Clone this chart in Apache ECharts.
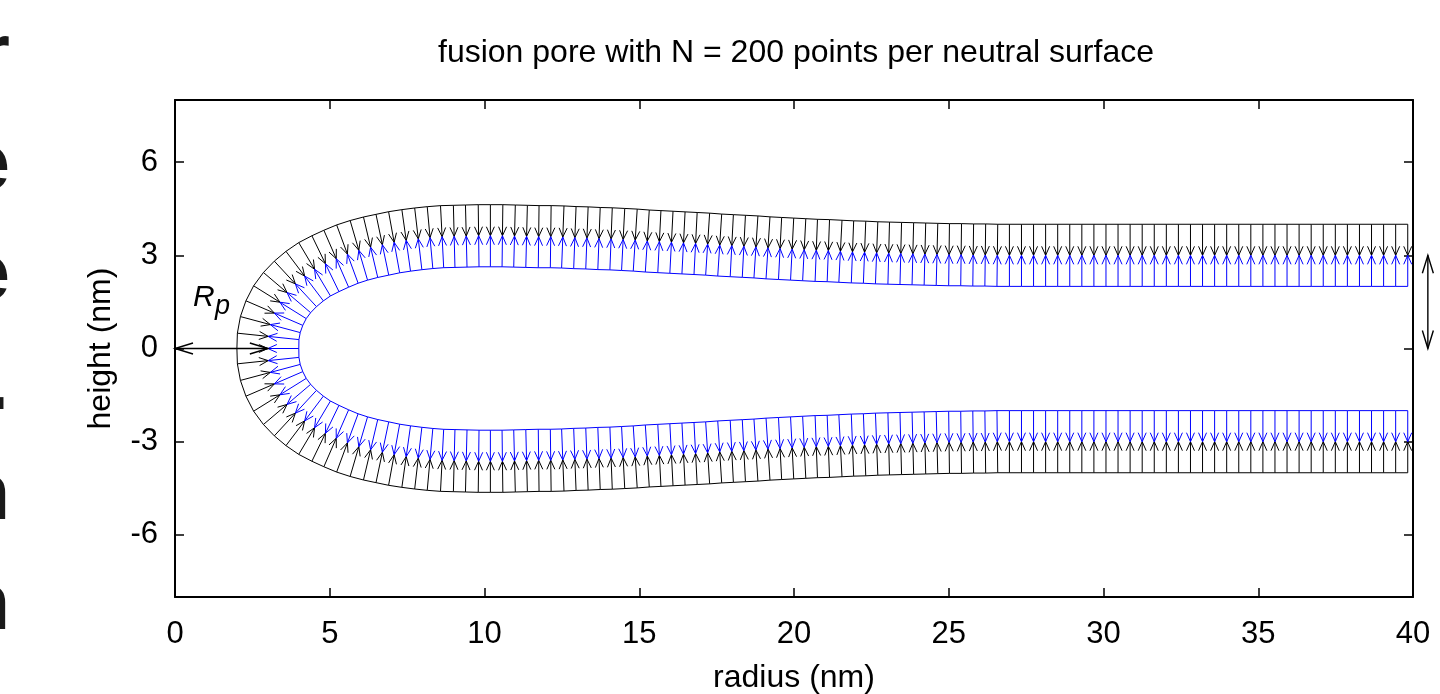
<!DOCTYPE html>
<html>
<head>
<meta charset="utf-8">
<script src="https://cdn.jsdelivr.net/npm/echarts@6/dist/echarts.min.js"></script>
<style>
  html, body { margin: 0; padding: 0; background: #fff; }
  #chart { width: 1440px; height: 694px; }
</style>
</head>
<body>
<div id="chart"></div>
<script>
// neutral surface, upper half, from the pore rim outwards (nm)
const neutralX = [
  3.00, 3.01, 3.08, 3.21, 3.39, 3.62, 3.89, 4.19, 4.51, 4.86,
  5.21, 5.57, 5.94, 6.32, 6.70, 7.08, 7.47, 7.86, 8.24, 8.63,
  9.02, 9.41, 9.81, 10.19, 10.58, 10.97, 11.36, 11.75, 12.14, 12.53,
  12.92, 13.31, 13.70, 14.09, 14.48, 14.87, 15.26, 15.65, 16.04, 16.43,
  16.82, 17.21, 17.60, 17.99, 18.38, 18.77, 19.16, 19.55, 19.94, 20.33,
  20.72, 21.11, 21.50, 21.89, 22.28, 22.67, 23.06, 23.45, 23.84, 24.23,
  24.62, 25.01, 25.40, 25.79, 26.18, 26.57, 26.96, 27.35, 27.74, 28.13,
  28.52, 28.91, 29.30, 29.69, 30.08, 30.47, 30.86, 31.25, 31.64, 32.03,
  32.42, 32.81, 33.20, 33.59, 33.98, 34.37, 34.76, 35.15, 35.54, 35.93,
  36.32, 36.71, 37.10, 37.49, 37.88, 38.27, 38.66, 39.05, 39.44, 39.83
];
const neutralY = [
  0.00, 0.39, 0.77, 1.14, 1.49, 1.80, 2.08, 2.33, 2.55, 2.73,
  2.89, 3.04, 3.16, 3.26, 3.34, 3.42, 3.48, 3.53, 3.57, 3.60,
  3.61, 3.62, 3.63, 3.63, 3.63, 3.62, 3.61, 3.60, 3.60, 3.59,
  3.57, 3.56, 3.54, 3.53, 3.51, 3.49, 3.46, 3.44, 3.42, 3.40,
  3.38, 3.36, 3.33, 3.31, 3.29, 3.27, 3.24, 3.22, 3.20, 3.18,
  3.16, 3.15, 3.13, 3.11, 3.10, 3.08, 3.07, 3.06, 3.05, 3.04,
  3.03, 3.02, 3.02, 3.01, 3.01, 3.00, 3.00, 3.00, 3.00, 3.00,
  3.00, 3.00, 3.00, 3.00, 3.00, 3.00, 3.00, 3.00, 3.00, 3.00,
  3.00, 3.00, 3.00, 3.00, 3.00, 3.00, 3.00, 3.00, 3.00, 3.00,
  3.00, 3.00, 3.00, 3.00, 3.00, 3.00, 3.00, 3.00, 3.00, 3.00
];
const thickness = 1.0;           // monolayer thickness (nm)
const yTicks = [-6, -3, 0, 3, 6];
const rpArrow = [0, 0, 3, 0];     // pore radius R_p
const hArrow = [40.48, 0, 40.48, 3];
const edgeLetters = ['r', 'e', 'e', '.', 'n', 'n', 'r'];

const FONT = '"Liberation Sans", Arial, sans-serif';

// whole neutral surface: mirrored lower half, then upper half
const pts = [];
for (let i = neutralX.length - 1; i > 0; i--) pts.push([neutralX[i], -neutralY[i]]);
for (let i = 0; i < neutralX.length; i++) pts.push([neutralX[i], neutralY[i]]);

const outer = [], inner = [];
pts.forEach((p, i) => {
  const a = pts[Math.max(i - 1, 0)];
  const b = pts[Math.min(i + 1, pts.length - 1)];
  let tx = b[0] - a[0], ty = b[1] - a[1];
  const len = Math.hypot(tx, ty);
  tx /= len; ty /= len;
  outer.push([p[0] - thickness * ty, p[1] + thickness * tx]);
  inner.push([p[0] + thickness * ty, p[1] - thickness * tx]);
});

function head(tip, from, len, half) {
  const dx = tip[0] - from[0], dy = tip[1] - from[1];
  const d = Math.hypot(dx, dy) || 1;
  const ux = dx / d, uy = dy / d;
  return [
    [tip[0] - len * ux - half * uy, tip[1] - len * uy + half * ux],
    tip,
    [tip[0] - len * ux + half * uy, tip[1] - len * uy - half * ux]
  ];
}

function normals(surface, color) {
  return {
    type: 'custom',
    silent: true,
    data: pts.map((p, i) => [p[0], p[1], surface[i][0], surface[i][1]]),
    encode: { x: [0, 2], y: [1, 3] },
    renderItem: (params, api) => {
      const tip = api.coord([api.value(0), api.value(1)]);
      const base = api.coord([api.value(2), api.value(3)]);
      return {
        type: 'group',
        children: [
          { type: 'line', shape: { x1: base[0], y1: base[1], x2: tip[0], y2: tip[1] },
            style: { stroke: color, lineWidth: 1 } },
          { type: 'polyline', shape: { points: head(tip, base, 9, 4) },
            style: { stroke: color, fill: null, lineWidth: 1 } }
        ]
      };
    }
  };
}

const chart = echarts.init(document.getElementById('chart'));

const frame = { show: true, onZero: false, lineStyle: { color: '#000', width: 2 } };
const tick = { show: true, inside: true, length: 9, lineStyle: { color: '#000', width: 1.5 } };

chart.setOption({
  animation: false,
  textStyle: { fontFamily: FONT },
  title: {
    text: 'fusion pore with N = 200 points per neutral surface',
    left: 791, top: 32, textAlign: 'center',
    textStyle: { fontSize: 32, fontWeight: 'normal', color: '#000', fontFamily: FONT }
  },
  grid: { left: 175, right: 27, top: 100, bottom: 97, outerBoundsMode: 'none', containLabel: false },
  xAxis: [
    {
      type: 'value', min: 0, max: 40, interval: 5, position: 'bottom',
      axisLine: frame, axisTick: tick, splitLine: { show: false },
      axisLabel: { fontSize: 31, color: '#000', margin: 22, fontFamily: FONT },
      name: 'radius (nm)', nameLocation: 'middle', nameGap: 65,
      nameTextStyle: { fontSize: 32, color: '#000', fontFamily: FONT }
    },
    {
      type: 'value', min: 0, max: 40, interval: 5, position: 'top',
      axisLine: frame, axisTick: tick, splitLine: { show: false },
      axisLabel: { show: false }
    }
  ],
  yAxis: [
    {
      type: 'value', min: -8, max: 8, position: 'left',
      axisLine: frame, axisTick: Object.assign({ customValues: yTicks }, tick),
      splitLine: { show: false },
      axisLabel: { customValues: yTicks, fontSize: 31, color: '#000', margin: 17, fontFamily: FONT },
      name: 'height (nm)', nameLocation: 'middle', nameGap: 58,
      nameTextStyle: { fontSize: 32, color: '#000', fontFamily: FONT }
    },
    {
      type: 'value', min: -8, max: 8, position: 'right',
      axisLine: frame, axisTick: Object.assign({ customValues: yTicks }, tick),
      splitLine: { show: false }, axisLabel: { show: false }
    }
  ],
  graphic: [
    { type: 'text', left: 193, top: 283, silent: true,
      style: { text: 'R', font: 'italic 30px ' + FONT, fill: '#000' } },
    { type: 'text', left: 215, top: 293, silent: true,
      style: { text: 'p', font: 'italic 27px ' + FONT, fill: '#000' } }
  ].concat(edgeLetters.map((ch, i) => ({
    type: 'text', silent: true,
    style: {
      text: ch, x: ch === '.' ? 9 : 10, y: 17 + 110 * i,
      align: 'right', verticalAlign: 'top',
      font: 'bold 80px ' + FONT, fill: '#1a1a1a'
    }
  }))),
  series: [
    { type: 'line', data: outer, showSymbol: false, silent: true,
      lineStyle: { color: '#000', width: 1 } },
    { type: 'line', data: inner, showSymbol: false, silent: true,
      lineStyle: { color: '#0000ff', width: 1 } },
    normals(outer, '#000'),
    normals(inner, '#0000ff'),
    {
      type: 'custom', silent: true, clip: false,
      data: [rpArrow, hArrow],
      encode: { x: [0, 2], y: [1, 3] },
      renderItem: (params, api) => {
        const p1 = api.coord([api.value(0), api.value(1)]);
        const p2 = api.coord([api.value(2), api.value(3)]);
        const st = { stroke: '#000', fill: null, lineWidth: 1.4 };
        return {
          type: 'group',
          children: [
            { type: 'line', shape: { x1: p1[0], y1: p1[1], x2: p2[0], y2: p2[1] }, style: st },
            { type: 'polyline', shape: { points: head(p1, p2, 18, 5.5) }, style: st },
            { type: 'polyline', shape: { points: head(p2, p1, 18, 5.5) }, style: st }
          ]
        };
      }
    }
  ]
});
</script>
</body>
</html>
